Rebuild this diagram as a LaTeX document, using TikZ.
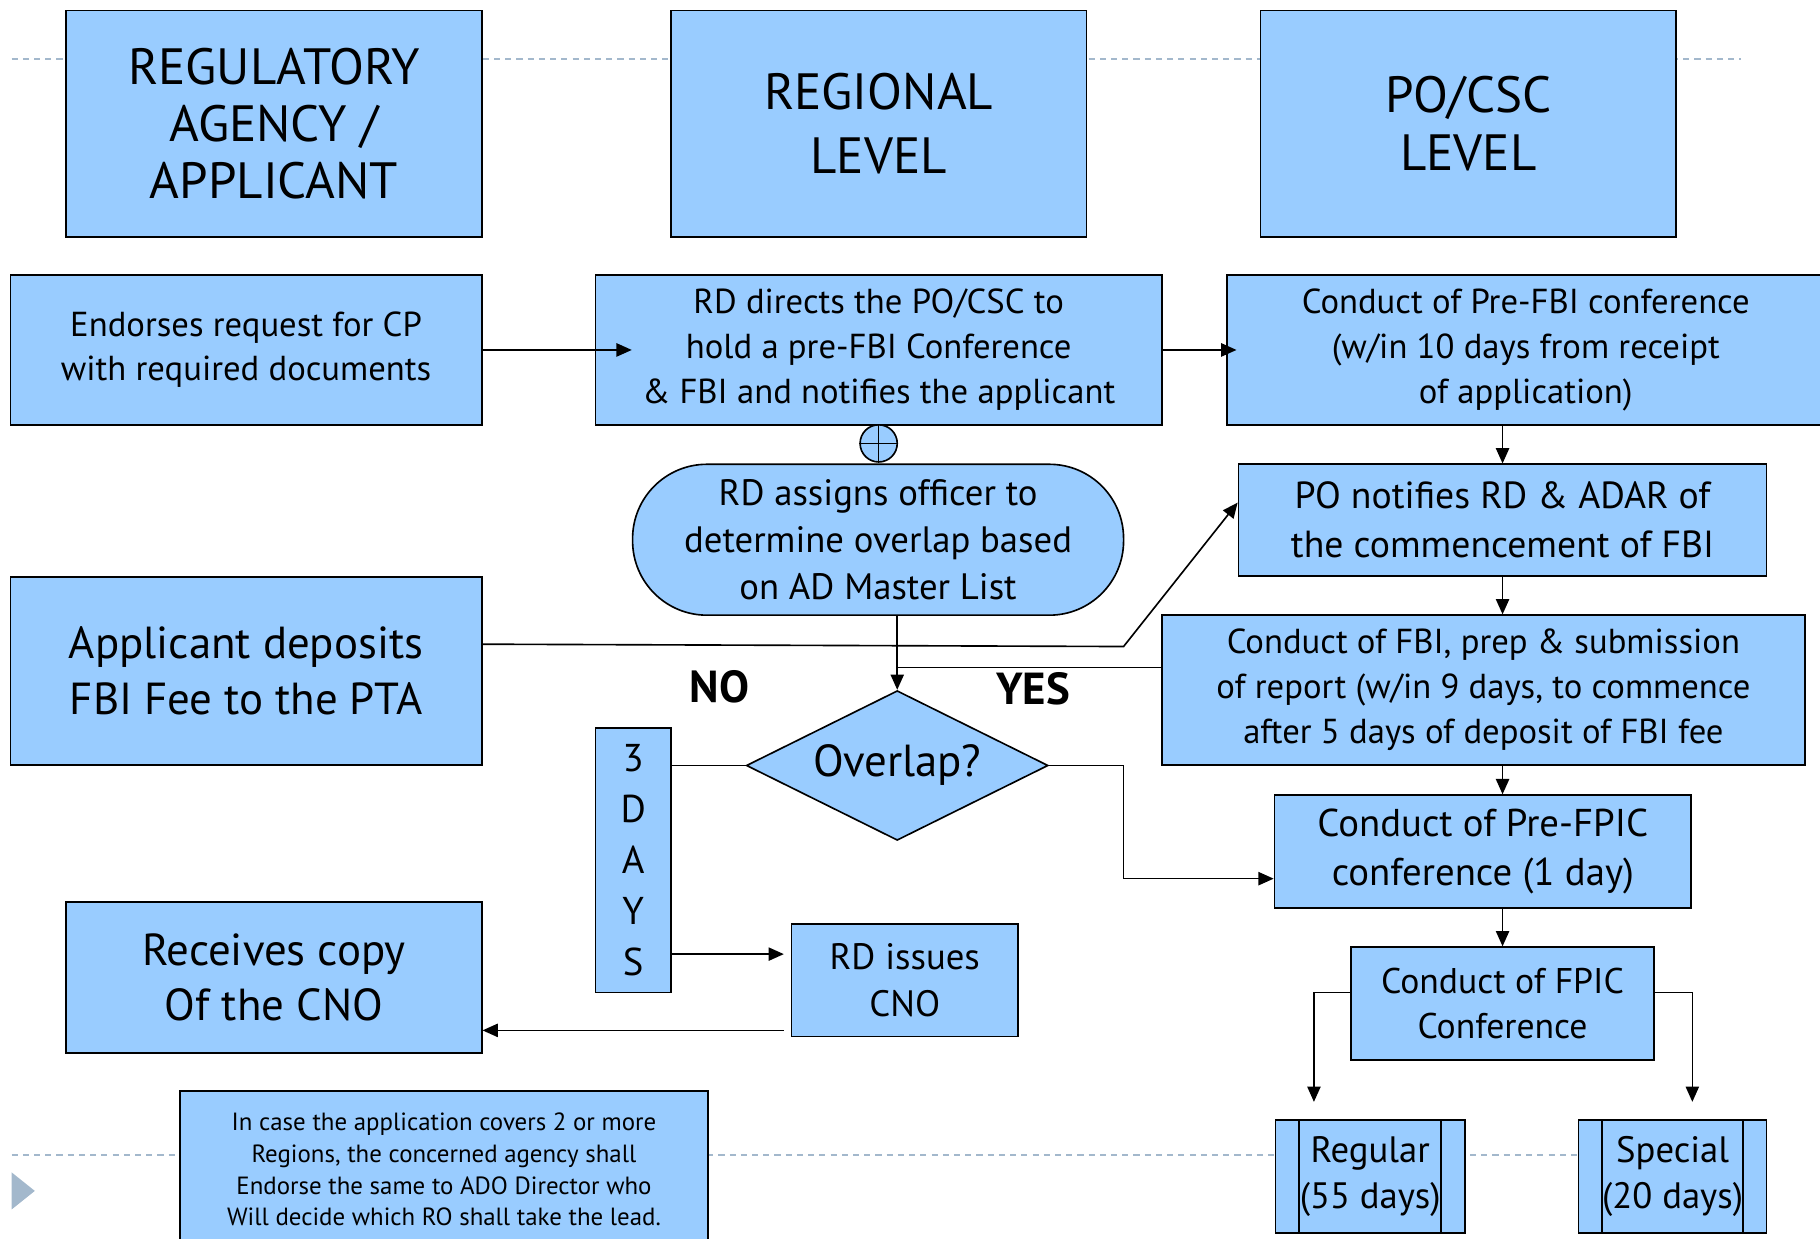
\documentclass[tikz,border=0pt]{standalone}
\usepackage{fontspec}
\setmainfont{PT Sans}
\usetikzlibrary{arrows.meta, shapes.geometric, calc}

\definecolor{boxblue}{HTML}{99CCFF}
\definecolor{guide}{HTML}{A3B8CC}

\newcommand{\fs}[2]{\fontsize{#1}{#2}\selectfont}

\tikzset{
  box/.style={draw, fill=boxblue, line width=0.8pt, align=center, inner sep=0pt},
  guideline/.style={guide, line width=1pt, dash pattern=on 3pt off 2.5pt},
  answer/.style={font=\fs{22}{26}\bfseries},
}

\begin{document}
\begin{tikzpicture}[>={Triangle[length=7.5pt,width=6.5pt]}, line width=0.8pt]
	\useasboundingbox (0,0) rectangle (31.36,-21.34);
	% slide guides
	\draw[guideline] (0.2,-1.02) -- (30.0,-1.02);
	\draw[guideline] (0.2,-19.9) -- (30.0,-19.9);
	\fill[guide] (0.2,-20.2) -- (0.6,-20.52) -- (0.2,-20.84) -- cycle;

	% column heads
	\node[box, minimum width=7.16cm, minimum height=3.9cm, font=\fs{25}{28}] (hAgency) at (4.72,-2.13) {REGULATORY\\AGENCY /\\APPLICANT};
	\node[box, minimum width=7.16cm, minimum height=3.9cm, font=\fs{25}{31}] (hRegion) at (15.14,-2.13) {REGIONAL\\LEVEL};
	\node[box, minimum width=7.16cm, minimum height=3.9cm, font=\fs{25}{28}] (hPo) at (25.30,-2.13) {PO/CSC\\LEVEL};

	% steps
	\node[box, minimum width=8.12cm, minimum height=2.58cm, font=\fs{17}{21.7}] (endorse) at (4.24,-6.03) {Endorses request for CP\\with required documents};
	\node[box, minimum width=9.76cm, minimum height=2.58cm, font=\fs{17}{22}] (directs) at (15.14,-6.03) {RD directs the PO/CSC to\\hold a pre-FBI Conference\\\& FBI and notifies the applicant};
	\node[box, minimum width=10.3cm, minimum height=2.58cm, font=\fs{17}{22}] (preFbi) at (26.29,-6.03) {Conduct of Pre-FBI conference\\(w/in 10 days from receipt\\of application)};
	\node[circle, draw, fill=boxblue, minimum size=0.64cm, inner sep=0pt] (join) at (15.14,-7.64) {};
	\draw (join.north) -- (join.south) (join.west) -- (join.east);
	\node[box, rounded corners=1.28cm, minimum width=8.46cm, minimum height=2.6cm, font=\fs{18}{23.2}] (assign) at (15.13,-9.30) {RD assigns officer to\\determine overlap based\\on AD Master List};
	\node[box, minimum width=9.1cm, minimum height=1.92cm, font=\fs{18.5}{23.8}] (notify) at (25.89,-8.96) {PO notifies RD \& ADAR of\\the commencement of FBI};
	\node[box, minimum width=11.08cm, minimum height=2.58cm, font=\fs{17}{22}] (fbi) at (25.56,-11.89) {Conduct of FBI, prep \& submission\\of report (w/in 9 days, to commence\\after 5 days of deposit of FBI fee};
	\node[box, minimum width=8.12cm, minimum height=3.24cm, font=\fs{22}{27.8}] (deposit) at (4.24,-11.56) {Applicant deposits\\FBI Fee to the PTA};
	\node[diamond, aspect=2, draw, fill=boxblue, minimum width=5.2cm, minimum height=2.58cm, inner sep=0pt, font=\fs{22}{26}] (overlap) at (15.46,-13.19) {Overlap?};
	\node[answer] (no) at (12.4,-11.84) {NO};
	\node[answer] (yes) at (17.8,-11.86) {YES};
	\node[box, minimum width=1.3cm, minimum height=4.56cm, font=\fs{19}{25}] (days) at (10.91,-14.82) {3\\D\\A\\Y\\S};
	\node[box, minimum width=3.9cm, minimum height=1.94cm, font=\fs{18}{22.7}] (cno) at (15.59,-16.89) {RD issues\\CNO};
	\node[box, minimum width=7.16cm, minimum height=2.6cm, font=\fs{22}{27.2}] (receives) at (4.72,-16.84) {Receives copy\\Of the CNO};
	\node[box, minimum width=7.18cm, minimum height=1.94cm, font=\fs{19}{24.4}] (preFpic) at (25.55,-14.67) {Conduct of Pre-FPIC\\conference (1 day)};
	\node[box, minimum width=5.22cm, minimum height=1.94cm, font=\fs{17.5}{22}] (fpic) at (25.89,-17.29) {Conduct of FPIC\\Conference};
	\node[box, minimum width=3.26cm, minimum height=1.94cm, font=\fs{18}{22.7}] (regular) at (23.61,-20.27) {Regular\\(55 days)};
	\node[box, minimum width=3.24cm, minimum height=1.94cm, font=\fs{18}{22.7}] (special) at (28.82,-20.27) {Special\\(20 days)};
	\foreach \n in {regular, special} {
		\draw ($(\n.north west)+(0.42,0)$) -- ($(\n.south west)+(0.42,0)$);
		\draw ($(\n.north east)+(-0.42,0)$) -- ($(\n.south east)+(-0.42,0)$);
	}
	\node[box, minimum width=9.1cm, minimum height=2.7cm, font=\fs{12.2}{15.6}] (note) at (7.65,-20.15) {In case the application covers 2 or more\\Regions, the concerned agency shall\\Endorse the same to ADO Director who\\Will decide which RO shall take the lead.};

	% turning points
	\coordinate (bend) at (19.36,-11.14);
	\coordinate (tee) at (15.46,-11.5);
	\coordinate (d3) at ($(days.east)+(0,-1.62)$);
	\coordinate (c1) at ($(cno.south west)+(0,0.12)$);
	\coordinate (f1) at ($(preFpic.west)+(0,-0.47)$);

	% flow
	\draw[->, shorten >=-0.64cm] (endorse) -- (directs);
	\draw[->, shorten >=-0.18cm] (directs) -- (preFbi);
	\draw[->] (preFbi.south -| notify.north) -- (notify.north);
	\draw[->] (notify.south) -- (notify.south |- fbi.north);
	\draw[->] (fpic.north |- fbi.south) -- (fpic.north |- preFpic.north);
	\draw[->] (fpic.north |- preFpic.south) -- (fpic.north);
	\draw[->] ($(deposit.east)+(0,0.46)$) -- (bend) -- ($(notify.west)+(0,0.3)$);
	\draw (fbi.west |- tee) -- (tee);
	\draw[->] (overlap.north |- assign.south) -- (overlap.north);
	\draw (overlap.west) -- (overlap.west -| days.east);
	\draw[->, shorten >=0.12cm] (d3) -- (d3 -| cno.west);
	\draw[->, shorten <=0.12cm] (c1) -- (c1 -| receives.east);
	\draw[->] (overlap.east) -| (bend |- f1) -- (f1);
	\draw[->, shorten >=0.3cm] ($(fpic.west)+(0,0.19)$) -| ($(regular.north)+(-0.97,0)$);
	\draw[->, shorten >=0.3cm] ($(fpic.east)+(0,0.19)$) -| ($(special.north)+(0.34,0)$);
\end{tikzpicture}
\end{document}
